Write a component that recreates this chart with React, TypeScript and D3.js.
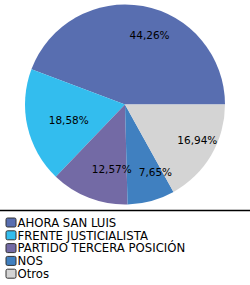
import React, { useEffect, useRef } from 'react';
import * as d3 from 'd3';

const parties = ['AHORA SAN LUIS', 'FRENTE JUSTICIALISTA', 'PARTIDO TERCERA POSICIÓN', 'NOS', 'Otros'];
const shares = [44.26, 18.58, 12.57, 7.65, 16.94];
const colors = ['#586eb0', '#33bdee', '#736aa5', '#4080c0', '#d4d4d4'];

const W = 250;
const H = 285;
const CX = 125;
const CY = 104.5;
const R = 100;

const App = () => {
  const svgRef = useRef<SVGSVGElement | null>(null);

  useEffect(() => {
    if (!svgRef.current) return;
    const svg = d3.select(svgRef.current);
    svg.selectAll('*').remove();

    const data = parties.map((p, i) => ({ name: p, value: shares[i], color: colors[i] }));

    // counter-clockwise starting from 3 o'clock
    const pie = d3.pie<typeof data[0]>()
      .value(d => d.value)
      .sort(null)
      .startAngle(Math.PI / 2)
      .endAngle(Math.PI / 2 - 2 * Math.PI);

    const arc = d3.arc<d3.PieArcDatum<typeof data[0]>>().innerRadius(0).outerRadius(R);
    const labelArc = d3.arc<d3.PieArcDatum<typeof data[0]>>().innerRadius(70).outerRadius(70);

    const g = svg.append('g').attr('transform', `translate(${CX},${CY})`);
    const arcs = pie(data);

    g.selectAll('path')
      .data(arcs)
      .enter()
      .append('path')
      .attr('d', arc)
      .attr('fill', d => d.data.color);

    g.selectAll('text')
      .data(arcs)
      .enter()
      .append('text')
      .attr('x', d => labelArc.centroid(d)[0] + 12)
      .attr('y', d => labelArc.centroid(d)[1])
      .attr('dy', '0.35em')
      .attr('text-anchor', 'middle')
      .attr('font-family', 'DejaVu Sans, Verdana, sans-serif')
      .attr('font-size', '10.5px')
      .attr('fill', '#000')
      .text(d => d.data.value.toFixed(2).replace('.', ',') + '%');

    // separator
    svg.append('line')
      .attr('x1', 0)
      .attr('x2', W)
      .attr('y1', 210.5)
      .attr('y2', 210.5)
      .attr('stroke', '#000')
      .attr('stroke-width', 1.3);

    const legend = svg.append('g').attr('transform', 'translate(6,222.5)');
    const rowY = d3.scaleLinear().domain([0, 1]).range([0, 12.8]);

    const rows = legend.selectAll('g')
      .data(data)
      .enter()
      .append('g')
      .attr('transform', (d, i) => `translate(0,${rowY(i)})`);

    rows.append('rect')
      .attr('x', 0)
      .attr('y', -4.5)
      .attr('width', 10)
      .attr('height', 9)
      .attr('rx', 1.5)
      .attr('fill', d => d.color)
      .attr('stroke', '#333')
      .attr('stroke-width', 1);

    rows.append('text')
      .attr('x', 11.5)
      .attr('y', 0)
      .attr('dy', '0.36em')
      .attr('font-family', 'DejaVu Sans, Verdana, sans-serif')
      .attr('font-size', '11.7px')
      .attr('fill', '#000')
      .text(d => d.name);
  }, []);

  return (
    <svg
      ref={svgRef}
      width={W}
      height={H}
      style={{ position: 'fixed', left: 0, top: 0, background: '#fff' }}
    />
  );
};

export default App;
